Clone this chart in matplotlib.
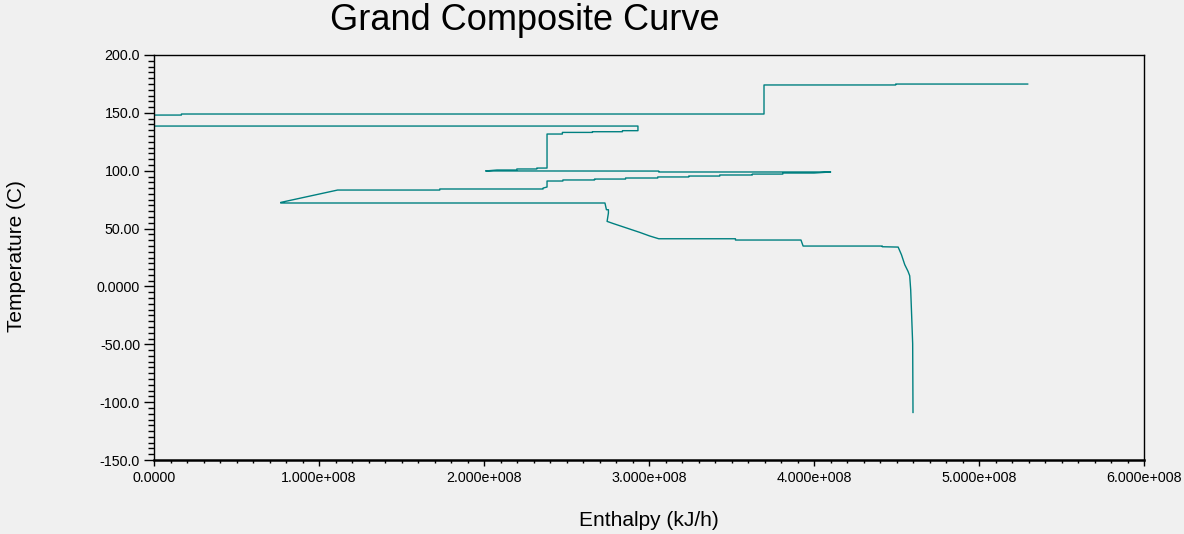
import matplotlib
matplotlib.use("Agg")
import matplotlib.pyplot as plt
from matplotlib.ticker import FixedLocator, MultipleLocator

plt.rcParams['font.family'] = ['Liberation Sans', 'DejaVu Sans']

# Grand composite curve, enthalpy in units of 1e8 kJ/h
enthalpy_e8 = [
    5.295, 4.495, 4.495, 3.697, 3.697, 0.166, 0.166, 0.0, 0.0, 2.933,
    2.933, 2.839, 2.839, 2.657, 2.657, 2.475, 2.475, 2.382, 2.382, 2.320,
    2.320, 2.199, 2.199, 2.079, 2.010, 3.059, 3.059, 4.101, 4.001, 3.811,
    3.811, 3.626, 3.626, 3.429, 3.429, 3.241, 3.241, 3.053, 3.053, 2.858,
    2.858, 2.670, 2.670, 2.478, 2.478, 2.382, 2.382, 2.358, 2.358, 1.732,
    1.732, 1.113, 0.768, 0.768, 2.733, 2.742, 2.754, 2.754, 2.746, 2.782,
    2.822, 2.883, 2.944, 3.004, 3.059, 3.524, 3.524, 3.921, 3.934, 4.414,
    4.414, 4.510, 4.530, 4.550, 4.570, 4.580, 4.586, 4.592, 4.598, 4.600,
]
temperature = [
    174.9, 174.9, 174.1, 174.1, 149.0, 149.0, 148.1, 148.1, 138.6, 138.6,
    134.6, 134.6, 133.7, 133.7, 133.1, 133.1, 131.7, 131.7, 102.3, 102.3,
    101.5, 101.5, 100.6, 100.6, 99.8, 99.7, 98.9, 98.9, 98.0, 98.0,
    97.1, 97.1, 96.3, 96.3, 95.4, 95.4, 94.6, 94.6, 93.7, 93.7,
    92.8, 92.8, 92.0, 92.0, 91.1, 91.1, 85.9, 85.0, 84.2, 84.2,
    83.3, 83.3, 72.6, 72.1, 72.1, 66.3, 66.3, 63.4, 56.2, 54.4,
    52.5, 49.6, 46.7, 43.6, 41.2, 41.2, 40.1, 40.1, 34.9, 34.9,
    34.3, 34.0, 27.4, 18.8, 13.0, 9.2, -2.9, -25.9, -49.5, -108.9,
]
enthalpy = [h * 1e8 for h in enthalpy_e8]

x_ticks = [0, 1e8, 2e8, 3e8, 4e8, 5e8, 6e8]
x_labels = ["0.0000", "1.000e+008", "2.000e+008", "3.000e+008",
            "4.000e+008", "5.000e+008", "6.000e+008"]
y_ticks = [-150, -100, -50, 0, 50, 100, 150, 200]
y_labels = ["-150.0", "-100.0", "-50.00", "0.0000", "50.00", "100.0",
            "150.0", "200.0"]

bg = "#f0f0f0"
fig = plt.figure(figsize=(11.84, 5.34), dpi=100, facecolor=bg)
ax = fig.add_axes([154 / 1184, 74 / 534, 990 / 1184, 405 / 534])
ax.set_facecolor(bg)

ax.plot(enthalpy, temperature, color="#008080", lw=1.0)

ax.set_xlim(0, 6e8)
ax.set_ylim(-150, 200)
ax.xaxis.set_major_locator(FixedLocator(x_ticks))
ax.set_xticklabels(x_labels)
ax.yaxis.set_major_locator(FixedLocator(y_ticks))
ax.set_yticklabels(y_labels)
ax.xaxis.set_minor_locator(MultipleLocator(1e7))
ax.yaxis.set_minor_locator(MultipleLocator(5))

ax.tick_params(axis="x", which="major", length=4, width=1, pad=4, labelsize=10.3)
ax.tick_params(axis="x", which="minor", length=2.5, width=1)
ax.tick_params(axis="y", which="major", length=7, width=1, pad=3, labelsize=10.3)
ax.tick_params(axis="y", which="minor", length=4.5, width=1)

for side in ["left", "right", "top"]:
    ax.spines[side].set_linewidth(1)
ax.spines["bottom"].set_linewidth(1.8)

fig.text(525 / 1184, 1 - 21 / 534, "Grand Composite Curve", fontsize=26,
         ha="center", va="center")
fig.text(649 / 1184, 1 - 520 / 534, "Enthalpy (kJ/h)", fontsize=15,
         ha="center", va="center")
fig.text(17 / 1184, 1 - 256 / 534, "Temperature (C)", fontsize=15,
         ha="center", va="center", rotation=90)

fig.savefig("out.png", dpi=100, facecolor=bg)
